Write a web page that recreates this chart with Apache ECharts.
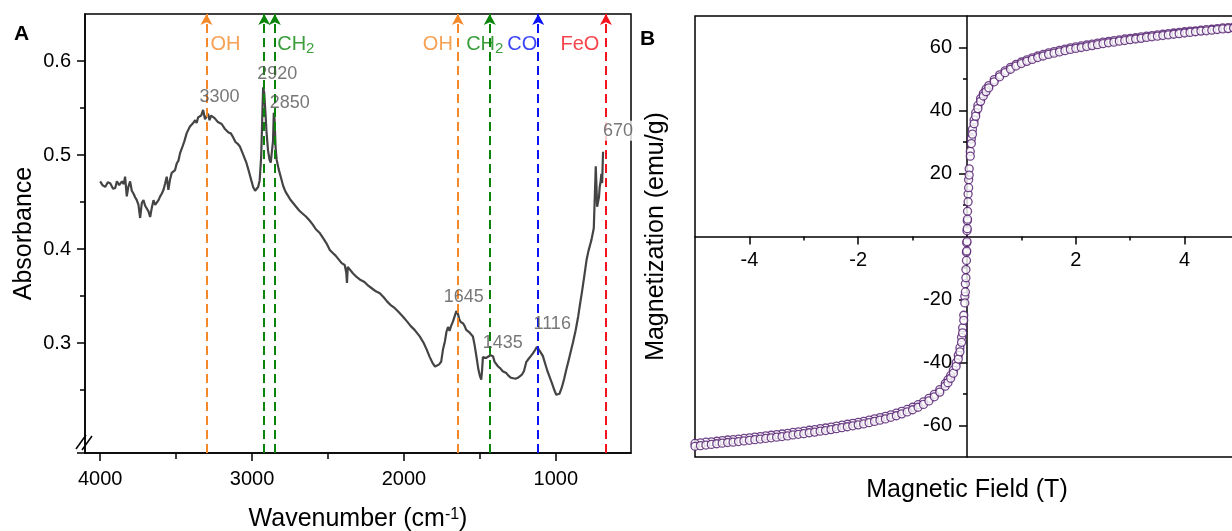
<!DOCTYPE html>
<html>
<head>
<meta charset="utf-8">
<script src="https://cdn.jsdelivr.net/npm/echarts@6/dist/echarts.min.js"></script>
<style>
  html, body { margin: 0; padding: 0; background: #fff; }
  #chart { width: 1232px; height: 531px; }
</style>
</head>
<body>
<div id="chart"></div>
<script>
// ---- panel A: FTIR spectrum [wavenumber, absorbance] ----
const ftirSpectrum = [
  [4000, 0.472], [3985, 0.468], [3967, 0.466], [3950, 0.471], [3934, 0.470], [3915, 0.464], [3901, 0.465], [3890, 0.472],
  [3875, 0.468], [3857, 0.472], [3845, 0.469], [3836, 0.477], [3825, 0.456], [3815, 0.466], [3803, 0.472], [3792, 0.462],
  [3781, 0.459], [3770, 0.455], [3759, 0.452], [3748, 0.447], [3737, 0.433], [3726, 0.449], [3715, 0.452], [3704, 0.446],
  [3693, 0.447], [3682, 0.440], [3671, 0.434], [3660, 0.444], [3649, 0.452], [3638, 0.447], [3627, 0.445], [3616, 0.452],
  [3605, 0.456], [3594, 0.459], [3583, 0.463], [3572, 0.470], [3562, 0.477], [3551, 0.463], [3540, 0.474], [3529, 0.481],
  [3518, 0.480], [3507, 0.484], [3496, 0.491], [3485, 0.494], [3474, 0.502], [3460, 0.508], [3445, 0.515], [3431, 0.523],
  [3420, 0.521], [3410, 0.530], [3400, 0.529], [3388, 0.534], [3375, 0.537], [3365, 0.534], [3355, 0.540], [3343, 0.539],
  [3335, 0.542], [3322, 0.548], [3310, 0.538], [3300, 0.541], [3290, 0.544], [3280, 0.537], [3270, 0.542], [3257, 0.543],
  [3245, 0.539], [3235, 0.540], [3225, 0.535], [3212, 0.537], [3200, 0.533], [3190, 0.532], [3180, 0.528], [3168, 0.530],
  [3155, 0.524], [3140, 0.523], [3125, 0.519], [3110, 0.514], [3095, 0.512], [3080, 0.509], [3065, 0.503], [3050, 0.497],
  [3036, 0.491], [3020, 0.482], [3005, 0.473], [2993, 0.466], [2980, 0.462], [2970, 0.461], [2960, 0.466], [2950, 0.473],
  [2940, 0.498], [2932, 0.545], [2927, 0.572], [2920, 0.566], [2912, 0.545], [2905, 0.525], [2895, 0.505], [2885, 0.495],
  [2877, 0.492], [2870, 0.493], [2862, 0.515], [2857, 0.545], [2852, 0.538], [2845, 0.508], [2838, 0.495], [2825, 0.485],
  [2810, 0.476], [2795, 0.467], [2780, 0.461], [2765, 0.457], [2750, 0.453], [2730, 0.449], [2710, 0.445], [2690, 0.441],
  [2670, 0.438], [2642, 0.434], [2620, 0.430], [2600, 0.426], [2580, 0.421], [2554, 0.417], [2530, 0.411], [2510, 0.406],
  [2488, 0.399], [2470, 0.396], [2450, 0.393], [2430, 0.389], [2410, 0.385], [2390, 0.383], [2380, 0.375], [2375, 0.364],
  [2370, 0.381], [2357, 0.379], [2335, 0.374], [2310, 0.370], [2285, 0.367], [2260, 0.365], [2235, 0.361], [2210, 0.358],
  [2185, 0.355], [2159, 0.353], [2135, 0.349], [2110, 0.344], [2085, 0.340], [2060, 0.337], [2035, 0.333], [2006, 0.328],
  [1980, 0.323], [1955, 0.318], [1930, 0.314], [1896, 0.307], [1870, 0.300], [1850, 0.293], [1830, 0.285], [1809, 0.278],
  [1795, 0.275], [1787, 0.275], [1770, 0.277], [1755, 0.280], [1743, 0.293], [1730, 0.302], [1720, 0.312], [1710, 0.317],
  [1700, 0.313], [1690, 0.318], [1677, 0.323], [1665, 0.325], [1655, 0.334], [1645, 0.331], [1635, 0.325], [1625, 0.322],
  [1611, 0.321], [1600, 0.318], [1590, 0.314], [1580, 0.315], [1567, 0.311], [1556, 0.309], [1546, 0.307], [1535, 0.298],
  [1524, 0.287], [1510, 0.272], [1500, 0.265], [1491, 0.261], [1486, 0.270], [1480, 0.285], [1470, 0.287], [1460, 0.284],
  [1447, 0.285], [1430, 0.287], [1414, 0.286], [1403, 0.280], [1392, 0.278], [1380, 0.275], [1365, 0.273], [1350, 0.270],
  [1340, 0.268], [1326, 0.268], [1310, 0.265], [1295, 0.263], [1282, 0.261], [1265, 0.262], [1250, 0.263], [1238, 0.264],
  [1225, 0.266], [1210, 0.270], [1194, 0.280], [1180, 0.283], [1165, 0.286], [1151, 0.289], [1135, 0.293], [1124, 0.296],
  [1118, 0.295], [1100, 0.290], [1085, 0.286], [1070, 0.278], [1055, 0.270], [1041, 0.264], [1025, 0.257], [1010, 0.250],
  [997, 0.245], [985, 0.244], [976, 0.246], [960, 0.253], [945, 0.262], [932, 0.271], [915, 0.282], [900, 0.292],
  [888, 0.300], [870, 0.313], [853, 0.328], [840, 0.342], [830, 0.352], [820, 0.363], [810, 0.374], [798, 0.388],
  [785, 0.398], [770, 0.407], [765, 0.410], [755, 0.418], [750, 0.422], [742, 0.424], [737, 0.488], [733, 0.470],
  [728, 0.445], [722, 0.445], [716, 0.455], [711, 0.466], [705, 0.472], [700, 0.480], [695, 0.470], [689, 0.5035]
]

// band assignments (dashed arrows)
const bandWn = [3300, 2920, 2850, 1645, 1435, 1116, 670]
const bandColor = ['#f5892a', '#0a850a', '#0a850a', '#f5892a', '#0a850a', '#0a14f5', '#f5141e']
// group names written at the top
const groupWn = [3300, 2850, 1645, 1435, 1116, 670]
const groupName = ['OH', 'CH2', 'OH', 'CH2', 'CO', 'FeO']
const groupColor = ['#f5892a', '#0a850a', '#f5892a', '#0a850a', '#0a14f5', '#f5141e']
// peak numbers
const peakWn = [3300, 2920, 2850, 1645, 1435, 1116, 670]
const peakAbs = [0.548, 0.572, 0.545, 0.334, 0.286, 0.296, 0.5035]

const ftirXLabels = [1000, 2000, 3000, 4000]
const ftirXMinor = [1500, 2500, 3500]
const ftirYLabels = [0.3, 0.4, 0.5, 0.6]
const ftirYMinor = [0.25, 0.35, 0.45, 0.55]

// ---- panel B: hysteresis loop [field T, magnetization emu/g] ----
const sweepDown = [
  [5.0, 66.6], [4.9, 66.5], [4.8, 66.3], [4.7, 66.2], [4.6, 66.0], [4.5, 65.8], [4.4, 65.7], [4.3, 65.5], [4.2, 65.3], [4.1, 65.2],
  [4.0, 65.0], [3.9, 64.8], [3.8, 64.6], [3.7, 64.4], [3.6, 64.2], [3.5, 64.0], [3.4, 63.8], [3.3, 63.6], [3.2, 63.4], [3.1, 63.1],
  [3.0, 62.9], [2.9, 62.7], [2.8, 62.4], [2.7, 62.2], [2.6, 61.9], [2.5, 61.7], [2.4, 61.4], [2.3, 61.1], [2.2, 60.8], [2.1, 60.5],
  [2.0, 60.2], [1.9, 59.9], [1.8, 59.5], [1.7, 59.1], [1.6, 58.7], [1.5, 58.3], [1.4, 57.8], [1.3, 57.3], [1.2, 56.7], [1.1, 56.1],
  [1.0, 55.4], [0.9, 54.6], [0.8, 53.7], [0.7, 52.6], [0.6, 51.3], [0.5, 49.8], [0.4, 47.9], [0.35, 46.8], [0.3, 45.4], [0.25, 43.8],
  [0.2, 41.6], [0.16, 39.3], [0.13, 37.0], [0.1, 34.0], [0.08, 31.0], [0.06, 27.0], [0.04, 21.5], [0.03, 18.0], [0.02, 13.5], [0.01, 8.0],
  [0.005, 5.0], [0, 1.8], [-0.005, -2.0], [-0.01, -5.0], [-0.02, -10.5], [-0.03, -15.0], [-0.04, -19.0], [-0.06, -25.0], [-0.08, -29.0],
  [-0.1, -32.0], [-0.13, -35.3], [-0.16, -37.7], [-0.2, -40.1], [-0.25, -42.4], [-0.3, -44.1], [-0.35, -45.5], [-0.4, -46.7],
  [-0.5, -48.6], [-0.6, -50.1], [-0.7, -51.4], [-0.8, -52.5], [-0.9, -53.4], [-1.0, -54.2], [-1.1, -54.9], [-1.2, -55.5],
  [-1.3, -56.1], [-1.4, -56.6], [-1.5, -57.1], [-1.6, -57.5], [-1.7, -57.9], [-1.8, -58.3], [-1.9, -58.7], [-2.0, -59.0],
  [-2.1, -59.3], [-2.2, -59.6], [-2.3, -59.9], [-2.4, -60.2], [-2.5, -60.5], [-2.6, -60.8], [-2.7, -61.0], [-2.8, -61.3],
  [-2.9, -61.5], [-3.0, -61.8], [-3.1, -62.0], [-3.2, -62.2], [-3.3, -62.5], [-3.4, -62.7], [-3.5, -62.9], [-3.6, -63.1],
  [-3.7, -63.3], [-3.8, -63.5], [-3.9, -63.7], [-4.0, -63.9], [-4.1, -64.1], [-4.2, -64.3], [-4.3, -64.5], [-4.4, -64.6],
  [-4.5, -64.8], [-4.6, -65.0], [-4.7, -65.2], [-4.8, -65.3], [-4.9, -65.5], [-5.0, -65.7]
]
const sweepUp = [
  [-5.0, -66.6], [-4.9, -66.4], [-4.8, -66.2], [-4.7, -66.0], [-4.6, -65.8], [-4.5, -65.6], [-4.4, -65.4], [-4.3, -65.3],
  [-4.2, -65.1], [-4.1, -64.9], [-4.0, -64.7], [-3.9, -64.5], [-3.8, -64.3], [-3.7, -64.1], [-3.6, -63.9], [-3.5, -63.7],
  [-3.4, -63.5], [-3.3, -63.3], [-3.2, -63.0], [-3.1, -62.8], [-3.0, -62.6], [-2.9, -62.3], [-2.8, -62.1], [-2.7, -61.8],
  [-2.6, -61.6], [-2.5, -61.3], [-2.4, -61.0], [-2.3, -60.7], [-2.2, -60.4], [-2.1, -60.1], [-2.0, -59.8], [-1.9, -59.5],
  [-1.8, -59.1], [-1.7, -58.7], [-1.6, -58.3], [-1.5, -57.9], [-1.4, -57.4], [-1.3, -56.9], [-1.2, -56.3], [-1.1, -55.7],
  [-1.0, -55.0], [-0.9, -54.2], [-0.8, -53.3], [-0.7, -52.2], [-0.6, -50.9], [-0.5, -49.4], [-0.4, -47.5], [-0.35, -46.4],
  [-0.3, -45.0], [-0.25, -43.4], [-0.2, -41.2], [-0.16, -38.9], [-0.13, -36.6], [-0.1, -33.6], [-0.08, -30.6], [-0.06, -26.6],
  [-0.04, -21.1], [-0.03, -17.6], [-0.02, -13.1], [-0.01, -7.6], [-0.005, -4.6], [0, -1.6], [0.005, 2.5], [0.01, 5.5],
  [0.02, 11.0], [0.03, 15.5], [0.04, 19.5], [0.06, 25.5], [0.08, 29.5], [0.1, 32.5], [0.13, 35.8], [0.16, 38.2], [0.2, 40.6],
  [0.25, 42.9], [0.3, 44.6], [0.35, 46.0], [0.4, 47.2], [0.5, 49.1], [0.6, 50.7], [0.7, 52.0], [0.8, 53.1], [0.9, 54.1],
  [1.0, 54.9], [1.1, 55.6], [1.2, 56.2], [1.3, 56.8], [1.4, 57.3], [1.5, 57.8], [1.6, 58.2], [1.7, 58.6], [1.8, 59.0],
  [1.9, 59.4], [2.0, 59.7], [2.1, 60.0], [2.2, 60.3], [2.3, 60.6], [2.4, 60.9], [2.5, 61.2], [2.6, 61.5], [2.7, 61.7],
  [2.8, 62.0], [2.9, 62.2], [3.0, 62.5], [3.1, 62.7], [3.2, 62.9], [3.3, 63.2], [3.4, 63.4], [3.5, 63.6], [3.6, 63.8],
  [3.7, 64.0], [3.8, 64.2], [3.9, 64.4], [4.0, 64.6], [4.1, 64.8], [4.2, 65.0], [4.3, 65.2], [4.4, 65.3], [4.5, 65.5],
  [4.6, 65.7], [4.7, 65.9], [4.8, 66.0], [4.9, 66.2], [5.0, 66.4]
]
const fieldLabels = [-4, -2, 2, 4]
const fieldMinor = [-3, -1, 1, 3]
const magLabels = [-60, -40, -20, 20, 40, 60]
const magMinor = [-50, -30, -10, 10, 30, 50]

const FONT = '"Liberation Sans", Arial, Helvetica, sans-serif'
const BLACK = '#000'
const LOOP_COLOR = '#4e166b'

// grid B geometry; the cross axes sit at field 0 / magnetization 0
const gridB = { left: 695, top: 16, width: 544, height: 441 }
const crossX = -gridB.width / 2   // offset of the y axis from the left edge
const crossY = -gridB.height / 2  // offset of the x axis from the bottom edge

const chart = echarts.init(document.getElementById('chart'), null, { renderer: 'canvas' })

// offsets of the text boxes from their anchors (pixels)
const groupOffset = [[19, 0], [21, 0], [-20, 0], [-5, 0], [-16, 0], [-26, 0]]
const peakOffset = [[13, -13], [13, -13], [15, -10], [6, -14], [13, -13], [14, -23], [12, -21]]

const tickLine = { color: BLACK, width: 1.5 }
const plain = v => String(v)

function tickAxis(extra) {
  return Object.assign({
    type: 'value',
    axisLine: { show: false, onZero: false },
    axisLabel: { show: false },
    splitLine: { show: false }
  }, extra)
}

const option = {
  animation: false,
  backgroundColor: '#fff',
  textStyle: { fontFamily: FONT },
  grid: [
    { left: 85, top: 14, width: 546, height: 439, show: true, borderColor: BLACK, borderWidth: 1.5, outerBoundsMode: 'none' },
    Object.assign({ show: true, borderColor: BLACK, borderWidth: 1.5, outerBoundsMode: 'none' }, gridB)
  ],
  xAxis: [
    {
      gridIndex: 0, type: 'value', position: 'bottom', min: 505, max: 4100, inverse: true,
      axisLine: { onZero: false, lineStyle: tickLine },
      axisTick: { customValues: ftirXLabels, length: 8, lineStyle: tickLine },
      axisLabel: { customValues: ftirXLabels, formatter: plain, margin: 16, fontSize: 20, color: BLACK, fontFamily: FONT },
      splitLine: { show: false },
      name: '{t|Wavenumber (cm}{s|-1}{t|)}',
      nameLocation: 'middle', nameGap: 54,
      nameTextStyle: {
        rich: {
          t: { fontSize: 25, fontFamily: FONT, color: BLACK },
          s: { fontSize: 16, fontFamily: FONT, color: BLACK, verticalAlign: 'top' }
        }
      }
    },
    tickAxis({
      gridIndex: 0, position: 'bottom', min: 505, max: 4100, inverse: true,
      axisTick: { customValues: ftirXMinor, length: 6, lineStyle: tickLine }
    }),
    {
      gridIndex: 1, type: 'value', position: 'bottom', offset: crossY, min: -5, max: 5,
      axisLine: { onZero: false, lineStyle: tickLine },
      axisTick: { customValues: fieldLabels, length: 8, lineStyle: tickLine },
      axisLabel: { customValues: fieldLabels, formatter: plain, margin: 14, fontSize: 20, color: BLACK, fontFamily: FONT },
      splitLine: { show: false }
    },
    tickAxis({
      gridIndex: 1, position: 'bottom', offset: crossY, min: -5, max: 5,
      axisTick: { customValues: fieldMinor, length: 4, lineStyle: tickLine }
    }),
    tickAxis({
      gridIndex: 1, position: 'bottom', min: -5, max: 5,
      axisTick: { show: false },
      name: 'Magnetic Field (T)', nameLocation: 'middle', nameGap: 21,
      nameTextStyle: { fontSize: 25, fontFamily: FONT, color: BLACK }
    })
  ],
  yAxis: [
    {
      gridIndex: 0, type: 'value', position: 'left', min: 0.183, max: 0.65,
      axisLine: { onZero: false, lineStyle: tickLine },
      axisTick: { customValues: [0.183].concat(ftirYLabels), length: 8, lineStyle: tickLine },
      axisLabel: { customValues: ftirYLabels, formatter: plain, margin: 14, fontSize: 20, color: BLACK, fontFamily: FONT },
      splitLine: { show: false },
      name: 'Absorbance', nameLocation: 'middle', nameGap: 48,
      nameTextStyle: { fontSize: 25, fontFamily: FONT, color: BLACK }
    },
    tickAxis({
      gridIndex: 0, position: 'left', min: 0.183, max: 0.65,
      axisTick: { customValues: ftirYMinor, length: 5, lineStyle: tickLine }
    }),
    {
      gridIndex: 1, type: 'value', position: 'left', offset: crossX, min: -70, max: 70,
      axisLine: { onZero: false, lineStyle: tickLine },
      axisTick: { customValues: magLabels, length: 8, lineStyle: tickLine },
      axisLabel: { customValues: magLabels, formatter: plain, margin: 15, fontSize: 20, color: BLACK, fontFamily: FONT },
      splitLine: { show: false }
    },
    tickAxis({
      gridIndex: 1, position: 'left', offset: crossX, min: -70, max: 70,
      axisTick: { customValues: magMinor, length: 4, lineStyle: tickLine }
    }),
    tickAxis({
      gridIndex: 1, position: 'left', min: -70, max: 70,
      axisTick: { show: false },
      name: 'Magnetization (emu/g)', nameLocation: 'middle', nameGap: 26,
      nameTextStyle: { fontSize: 25, fontFamily: FONT, color: BLACK }
    })
  ],
  series: [
    {
      name: 'FTIR',
      type: 'line',
      xAxisIndex: 0, yAxisIndex: 0,
      data: ftirSpectrum,
      showSymbol: false,
      lineStyle: { color: '#444', width: 2.2 },
      z: 2,
      markLine: {
        silent: true,
        symbol: ['none', 'arrow'],
        symbolSize: [9, 11],
        label: { show: false },
        z: 3,
        data: bandWn.map((w, i) => ({
          xAxis: w,
          itemStyle: { color: bandColor[i] },
          lineStyle: { color: bandColor[i], type: [9, 5], width: 2 }
        }))
      }
    },
    {
      name: 'groups',
      type: 'scatter',
      xAxisIndex: 0, yAxisIndex: 0,
      symbolSize: 1,
      itemStyle: { color: 'rgba(0,0,0,0)' },
      silent: true,
      z: 5,
      data: groupWn.map((w, i) => ({
        value: [w, 0.618],
        label: {
          show: true,
          position: 'inside',
          offset: groupOffset[i],
          formatter: groupName[i] === 'CH2' ? '{m|CH}{s|2}' : '{m|' + groupName[i] + '}',
          rich: {
            m: { fontSize: 20, fontFamily: FONT, color: groupColor[i] },
            s: { fontSize: 15, fontFamily: FONT, color: groupColor[i], verticalAlign: 'top', padding: [10, 0, 0, 0] }
          }
        }
      }))
    },
    {
      name: 'peaks',
      type: 'scatter',
      xAxisIndex: 0, yAxisIndex: 0,
      symbolSize: 1,
      itemStyle: { color: 'rgba(0,0,0,0)' },
      silent: true,
      z: 6,
      data: peakWn.map((w, i) => ({
        value: [w, peakAbs[i]],
        label: {
          show: true,
          position: 'inside',
          offset: peakOffset[i],
          formatter: String(w),
          fontSize: 18,
          fontFamily: FONT,
          color: '#555',
          backgroundColor: w === 670 ? '#fff' : 'transparent',
          padding: w === 670 ? [1, 1] : 0
        }
      }))
    },
    {
      name: 'sweep down',
      type: 'scatter',
      xAxisIndex: 2, yAxisIndex: 2,
      data: sweepDown,
      symbol: 'circle',
      symbolSize: 8,
      itemStyle: { color: '#fff', borderColor: LOOP_COLOR, borderWidth: 1.3 },
      z: 4
    },
    {
      name: 'sweep up',
      type: 'scatter',
      xAxisIndex: 2, yAxisIndex: 2,
      data: sweepUp,
      symbol: 'circle',
      symbolSize: 8,
      itemStyle: { color: '#fff', borderColor: LOOP_COLOR, borderWidth: 1.3 },
      z: 4
    }
  ],
  graphic: [
    { type: 'text', left: 14, top: 24, style: { text: 'A', font: 'bold 21px ' + FONT, fill: BLACK } },
    { type: 'text', left: 640, top: 29, style: { text: 'B', font: 'bold 21px ' + FONT, fill: BLACK } },
    // axis break mark
    { type: 'line', shape: { x1: 76, y1: 449, x2: 86, y2: 435 }, style: { stroke: BLACK, lineWidth: 1.5 } },
    { type: 'line', shape: { x1: 82, y1: 450, x2: 92, y2: 436 }, style: { stroke: BLACK, lineWidth: 1.5 } }
  ]
}

chart.setOption(option)
window.addEventListener('resize', () => chart.resize())
</script>
</body>
</html>
